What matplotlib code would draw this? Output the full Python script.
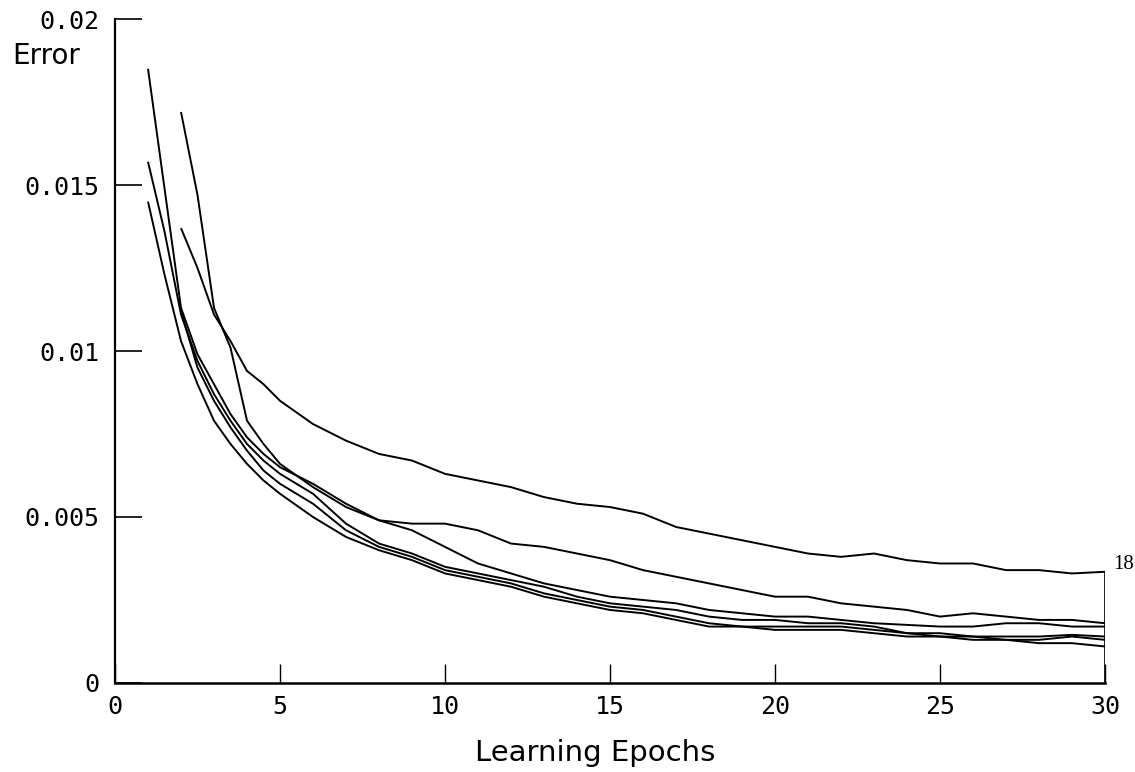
import numpy as np
import matplotlib
matplotlib.use("Agg")
import matplotlib.pyplot as plt

nan = np.nan

# ---- data -------------------------------------------------------------
epochs = [1, 1.5, 2, 2.5, 3, 3.5, 4, 4.5, 5, 6, 7, 8, 9, 10, 11, 12, 13, 14,
          15, 16, 17, 18, 19, 20, 21, 22, 23, 24, 25, 26, 27, 28, 29, 30]

run_a = [0.0185, 0.0149, 0.0113, 0.0099, 0.0090, 0.0081, 0.0074, 0.0069,
         0.0065, 0.0060, 0.0054, 0.0049, 0.0046, 0.0041, 0.0036, 0.0033,
         0.0030, 0.0028, 0.0026, 0.0025, 0.0024, 0.0022, 0.0021, 0.0020,
         0.0020, 0.0019, 0.0018, 0.00175, 0.0017, 0.0017, 0.0018, 0.0018,
         0.0017, 0.0017]

run_b = [0.0157, 0.0136, 0.0111, 0.0097, 0.0087, 0.0079, 0.0072, 0.0067,
         0.0063, 0.0057, 0.0048, 0.0042, 0.0039, 0.0035, 0.0033, 0.0031,
         0.0029, 0.0026, 0.0024, 0.0023, 0.0022, 0.0020, 0.0019, 0.0019,
         0.0018, 0.0018, 0.0017, 0.0015, 0.0015, 0.0014, 0.0014, 0.0014,
         0.00145, 0.0014]

run_c = [0.0145, 0.0123, 0.0103, 0.0090, 0.0079, 0.0072, 0.0066, 0.0061,
         0.0057, 0.0050, 0.0044, 0.0040, 0.0037, 0.0033, 0.0031, 0.0029,
         0.0026, 0.0024, 0.0022, 0.0021, 0.0019, 0.0017, 0.0017, 0.0016,
         0.0016, 0.0016, 0.0015, 0.0014, 0.0014, 0.0013, 0.0013, 0.0012,
         0.0012, 0.0011]

run_d = [nan, nan, 0.0172, 0.0147, 0.0113, 0.0101, 0.0079, 0.0072,
         0.0066, 0.0059, 0.0053, 0.0049, 0.0048, 0.0048, 0.0046, 0.0042,
         0.0041, 0.0039, 0.0037, 0.0034, 0.0032, 0.0030, 0.0028, 0.0026,
         0.0026, 0.0024, 0.0023, 0.0022, 0.0020, 0.0021, 0.0020, 0.0019,
         0.0019, 0.0018]

run_e = [nan, nan, 0.0137, 0.0125, 0.0111, 0.0103, 0.0094, 0.0090,
         0.0085, 0.0078, 0.0073, 0.0069, 0.0067, 0.0063, 0.0061, 0.0059,
         0.0056, 0.0054, 0.0053, 0.0051, 0.0047, 0.0045, 0.0043, 0.0041,
         0.0039, 0.0038, 0.0039, 0.0037, 0.0036, 0.0036, 0.0034, 0.0034,
         0.0033, 0.00335]

run_f = [nan, nan, 0.0112, 0.0095, 0.0085, 0.0077, 0.0070, 0.0064,
         0.0060, 0.0054, 0.0046, 0.0041, 0.0038, 0.0034, 0.0032, 0.0030,
         0.0027, 0.0025, 0.0023, 0.0022, 0.0020, 0.0018, 0.0017, 0.0017,
         0.0017, 0.0017, 0.0016, 0.0015, 0.0014, 0.0014, 0.0013, 0.0013,
         0.0014, 0.0013]

runs = [run_a, run_b, run_c, run_d, run_e, run_f]

x_ticks = [0, 5, 10, 15, 20, 25, 30]
y_ticks = [0, 0.005, 0.01, 0.015, 0.02]
y_tick_labels = ["0", "0.005", "0.01", "0.015", "0.02"]
end_label = "18"

# ---- figure -----------------------------------------------------------
W, H = 1135, 772
fig = plt.figure(figsize=(W / 100, H / 100), dpi=100)
ax = fig.add_axes([115 / W, 1 - 683 / H, (1105 - 115) / W, (683 - 19) / H])

for r in runs:
    ax.plot(epochs, r, color="black", lw=1.4, solid_capstyle="butt")

# closing vertical stroke at the last epoch, up to the top run
ax.plot([epochs[-1], epochs[-1]], [0, run_e[-1]], color="black", lw=1.2)
ax.annotate(end_label, xy=(epochs[-1], run_e[-1]), xytext=(6, 5),
            textcoords="offset points", fontsize=15, va="center", ha="left",
            family="Liberation Serif", annotation_clip=False)

ax.set_xlim(0, 30)
ax.set_ylim(0, 0.02)
for s in ("top", "right"):
    ax.spines[s].set_visible(False)
ax.spines["left"].set_linewidth(1.6)
ax.spines["bottom"].set_linewidth(1.8)

ax.set_xticks(x_ticks)
ax.set_xticklabels([str(t) for t in x_ticks])
ax.set_yticks(y_ticks)
ax.set_yticklabels(y_tick_labels)
ax.tick_params(axis="x", direction="in", length=13.5, width=1.0, pad=9,
               labelsize=18)
ax.tick_params(axis="y", direction="in", length=19.5, width=1.2, pad=11,
               labelsize=18)
for lab in ax.get_xticklabels() + ax.get_yticklabels():
    lab.set_family("DejaVu Sans Mono")

fig.text(12 / W, 1 - 64 / H, "Error", fontsize=20, ha="left", va="baseline",
         family="DejaVu Sans")
fig.text(475 / W, 1 - 761 / H, "Learning Epochs", fontsize=21, ha="left",
         va="baseline", family="DejaVu Sans")

fig.savefig("out.png", dpi=100, facecolor="white")
